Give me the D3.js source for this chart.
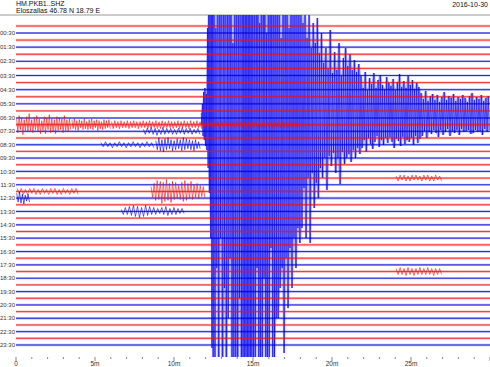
<!DOCTYPE html>
<html><head><meta charset="utf-8">
<script src="https://cdn.jsdelivr.net/npm/d3@7"></script>
<style>
body{margin:0;background:#fff}
svg{display:block}
text{font-family:"Liberation Sans",Arial,sans-serif}
</style>
</head><body>
<svg id="chart" width="490" height="367"></svg>
<script>
// ---------------- DATA ----------------
const stationTitle = "HM.PKB1..SHZ";
const siteTitle = "Eloszallas  46.78 N 18.79 E";
const dayLabel = "2016-10-30";

const traceStarts = ["00:00","00:30","01:00","01:30","02:00","02:30","03:00","03:30","04:00","04:30","05:00","05:30",
  "06:00","06:30","07:00","07:30","08:00","08:30","09:00","09:30","10:00","10:30","11:00","11:30",
  "12:00","12:30","13:00","13:30","14:00","14:30","15:00","15:30","16:00","16:30","17:00","17:30",
  "18:00","18:30","19:00","19:30","20:00","20:30","21:00","21:30","22:00","22:30","23:00","23:30"];
const hourLabels = ["00:30","01:30","02:30","03:30","04:30","05:30","06:30","07:30","08:30","09:30","10:30","11:30",
  "12:30","13:30","14:30","15:30","16:30","17:30","18:30","19:30","20:30","21:30","22:30","23:30"];
const traceColors = ["#ee1111", "#0000d8"];

// background noise half-amplitude of each trace
const noiseAmp = [1.2,1.0,1.3,1.1,1.2,1.0,1.2,1.0,1.2,1.1,1.2,1.0,
                  1.2,1.1,1.8,1.2,1.3,1.2,1.2,1.1,1.3,1.2,1.2,1.1,
                  1.3,1.4,1.2,1.1,1.2,1.1,1.2,1.1,1.3,1.1,1.2,1.1,
                  1.3,1.1,1.2,1.2,1.2,1.1,1.2,1.2,1.3,1.1,1.3,1.2];

// local bursts: trace index, start/end minute, successive peak values
const bursts = [
  {trace:14, t0:0.0, t1:3.5, peaks:[6,-8,9,-5,7,-10,5,-6,8,-7,11,-6,5,-8,7,-5,9,-7,6,-9,4,-6,8,-9,7,-5,10,-8,6,-7,5,-9,8,-6,7,-5,6,-8,9,-6,5,-7,6,-5]},
  {trace:14, t0:3.5, t1:6.0, peaks:[5,-4,6,-5,4,-6,5,-3,4,-5,6,-4,3,-5,5,-4,6,-5,4,-3,5,-6,4,-4,3,-5,5,-4,4,-3,5,-4]},
  {trace:14, t0:6.0, t1:12.0, peaks:[3,-4,4,-3,3,-4,4,-3,3,-3,4,-4,3,-3,4,-3,3,-4,3,-3,4,-3,3,-4,4,-3,3,-3,4,-4,3,-4,4,-3,3,-3,4,-3,3,-4,3,-3,4,-4,3,-3,4,-3,3,-4,4,-3,3,-3,4,-3,3,-4,3,-3]},
  {trace:14, t0:12.0, t1:18.0, peaks:[3,-3,4,-3,3,-3,3,-4,3,-3,4,-3,3,-3,3,-3,4,-3,3,-3,3,-4,3,-3,3,-3,3,-3,3,-3,4,-3,3,-3,3,-4,3,-3,4,-3,3,-3,3,-3,4,-3,3,-3,3,-3]},
  {trace:15, t0:8.0, t1:11.7, peaks:[2,-3,3,-2,4,-3,3,-4,2,-3,4,-3,3,-2,3,-3,2,-3,3,-2,4,-3,3,-2,3,-3,2,-2,3,-3]},
  {trace:17, t0:5.3, t1:8.8, peaks:[2,-2,3,-2,2,-3,2,-2,3,-2,2,-3,2,-2,3,-2,2,-3,2,-2,3,-2,2,-3]},
  {trace:17, t0:8.8, t1:11.7, peaks:[4,-5,7,-6,5,-7,6,-5,7,-4,5,-6,4,-5,6,-4,5,-6,7,-5,6,-4,5,-5,4,-6,5,-4,3,-4]},
  {trace:22, t0:24.0, t1:27.0, peaks:[2,-3,3,-2,3,-3,2,-3,3,-2,3,-2,2,-3,3,-2,3,-3,2,-3,3,-2,2,-3]},
  {trace:24, t0:0.0, t1:4.0, peaks:[3,-2,3,-3,2,-3,3,-2,3,-3,2,-3,3,-2,2,-3,3,-2,3,-3,2,-3,3,-2,2,-3,3,-2,3,-3]},
  {trace:24, t0:8.5, t1:12.0, peaks:[5,-6,8,-9,11,-8,10,-12,9,-10,12,-9,8,-11,10,-8,9,-7,6,-8,9,-10,11,-9,8,-7,10,-8,7,-6,8,-7,6,-5,5,-6]},
  {trace:25, t0:0.0, t1:0.9, peaks:[5,-4,6,-5,4,-6,3,-3,4,-4]},
  {trace:27, t0:6.6, t1:10.7, peaks:[2,-3,4,-3,5,-4,6,-5,5,-6,4,-5,6,-4,5,-3,4,-3,3,-2,4,-3,5,-4,3,-3,4,-3,3,-2,3,-2]},
  {trace:36, t0:24.0, t1:27.0, peaks:[3,-3,4,-3,3,-4,4,-3,3,-4,3,-3,4,-3,3,-3,4,-3,3,-4,3,-3,3,-3]}
];

// the large earthquake on the 06:30 line
const quakeTrace = 13;
const quakeSegments = [
  {t0:11.70, t1:12.10, peaks:[5,-7,14,-18,26,-22,30,-28,24,-32]},
  {t0:12.10, t1:12.50, peaks:[90,-50,140,-75,180,-120,200,-230,240,-260]},
  {t0:12.50, t1:14.30, peaks:[320,-300,90,-150,350,-330,260,-120,300,-350,220,-170,380,-300,160,-200,330,-140,280,-330,75,-260,240,-310,300,-340,200,-180,340,-300]},
  {t0:14.30, t1:14.95, peaks:[420,-400,390,-430,410,-420,400,-410,430,-390,400,-420,410,-400]},
  {t0:14.95, t1:16.50, peaks:[320,-300,260,-340,300,-150,350,-310,95,-290,320,-330,270,-160,310,-320,85,-280,300,-250,330,-130,250,-270,290,-240,280,-200]},
  {t0:16.50, t1:18.00, peaks:[250,-200,190,-170,80,-150,170,-235,210,-140,190,-190,90,-130,210,-170,150,-120,180,-150,140,-110,160,-125]},
  {t0:18.00, t1:19.30, peaks:[130,-110,95,-70,110,-120,80,-60,105,-125,70,-55,95,-90,75,-65,100,-80,65,-50]},
  {t0:19.30, t1:21.80, peaks:[85,-60,55,-40,70,-72,50,-38,88,-48,45,-35,66,-55,48,-40,75,-66,42,-34,60,-46,70,-40,52,-36,64,-44,48,-32,58,-40,46,-30,54,-36]},
  {t0:21.80, t1:25.60, peaks:[42,-30,30,-22,46,-34,28,-20,40,-26,34,-31,45,-24,30,-18,38,-29,43,-22,33,-27,29,-20,41,-25,35,-19,32,-24,39,-30,28,-21,36,-23,44,-28,31,-19,37,-26,30,-22,42,-24,33,-20,38,-27,29,-18,35,-25,31,-21]},
  {t0:25.60, t1:30.00, peaks:[25,-18,19,-13,27,-20,17,-14,22,-16,24,-12,18,-15,23,-19,16,-12,21,-17,26,-14,18,-11,22,-18,20,-13,24,-15,17,-12,21,-17,19,-11,23,-14,20,-13,16,-12,22,-16,25,-15,18,-12,21,-14,19,-13,23,-17,17,-11,20,-14,22,-12]}
];

const xTicks = [0,5,10,15,20,25];
const xTickLabels = ["0","5m","10m","15m","20m","25m"];

// ---------------- LAYOUT ----------------
const W = 490, H = 367;
const svg = d3.select("#chart");
const x = d3.scaleLinear().domain([0, 30]).range([16, 490]);
const traceY = d3.scaleLinear().domain([0, 1, 13, 47]).range([26, 33, 118, 345]);
const amp = d3.scaleLinear().domain([-1, 1]).range([1, -1]); // amplitude units -> px offset (up is negative y)
const plotTop = 15, plotBottom = 357;

svg.append("defs").append("clipPath").attr("id","clip")
  .append("rect").attr("x", x(0)).attr("y", plotTop).attr("width", x(30)-x(0)).attr("height", plotBottom-plotTop);

// titles
svg.append("text").attr("x",16).attr("y",6).attr("font-size",7).attr("fill","#111").text(stationTitle);
svg.append("text").attr("x",16).attr("y",13).attr("font-size",7).attr("fill","#111").text(siteTitle);
svg.append("text").attr("x",488).attr("y",7).attr("text-anchor","end").attr("font-size",7).attr("fill","#111").text(dayLabel);
svg.append("line").attr("x1",0).attr("x2",W).attr("y1",15).attr("y2",15).attr("stroke","#999").attr("stroke-width",1);

const g = svg.append("g").attr("clip-path","url(#clip)");

function segPoints(seg, base) {
  const n = seg.peaks.length;
  return seg.peaks.map((v, k) => ({t: seg.t0 + (seg.t1 - seg.t0) * (k + 0.5) / n, v, base}));
}
const line = d3.line().x(d => x(d.t)).y(d => d.base + amp(d.v));

// ---- quake haze (envelope of neighbouring peaks) ----
const qBase = traceY(quakeTrace);
const qPts = quakeSegments.flatMap(s => segPoints(s, qBase));
const qEnv = qPts.map((p, k) => {
  const nb = qPts.slice(Math.max(0, k-1), k+2).map(d => d.v);
  return {t: p.t, up: d3.max(nb), dn: d3.min(nb)};
});
g.append("path").datum(qEnv)
  .attr("fill", "#6f6fff").attr("opacity", 0.6)
  .attr("d", d3.area().x(d => x(d.t)).y0(d => qBase + amp(d.dn)).y1(d => qBase + amp(d.up)));

// quake spikes
g.append("path").datum(qPts)
  .attr("fill","none").attr("stroke","#0000ee").attr("stroke-width",0.6)
  .attr("d", line);

// ---- traces ----
traceStarts.forEach((ts, i) => {
  const base = traceY(i);
  const col = traceColors[i % 2];
  const a = noiseAmp[i];
  g.append("path").datum([0, 30])
    .attr("fill", col).attr("opacity", 0.3)
    .attr("d", d3.area().x(d => x(d)).y0(base + amp(-a)).y1(base + amp(a)));
  g.append("line").attr("x1", x(0)).attr("x2", x(30)).attr("y1", base).attr("y2", base)
    .attr("stroke", col).attr("stroke-width", 0.9).attr("opacity", 0.85);
});

bursts.forEach(b => {
  const base = traceY(b.trace);
  g.append("path").datum(segPoints(b, base))
    .attr("fill","none").attr("stroke", traceColors[b.trace % 2]).attr("stroke-width",0.6)
    .attr("d", line);
});

// ---- axes ----
const minor = d3.range(0, 31, 1);
svg.append("g").selectAll("line").data(minor).join("line")
  .attr("x1", d => x(d)).attr("x2", d => x(d))
  .attr("y1", 357).attr("y2", d => d % 5 === 0 ? 361 : 359)
  .attr("stroke", "#555").attr("stroke-width", 0.7);
svg.append("g").selectAll("text").data(xTicks).join("text")
  .attr("x", d => x(d)).attr("y", 366).attr("text-anchor","middle")
  .attr("font-size", 6.5).attr("fill", "#333")
  .text((d, i) => xTickLabels[i]);

svg.append("g").selectAll("text").data(hourLabels).join("text")
  .attr("x", 15).attr("y", (d, i) => traceY(2*i+1) + 2.1)
  .attr("text-anchor","end").attr("font-size", 6).attr("fill","#333")
  .text(d => d);
</script>
</body></html>
